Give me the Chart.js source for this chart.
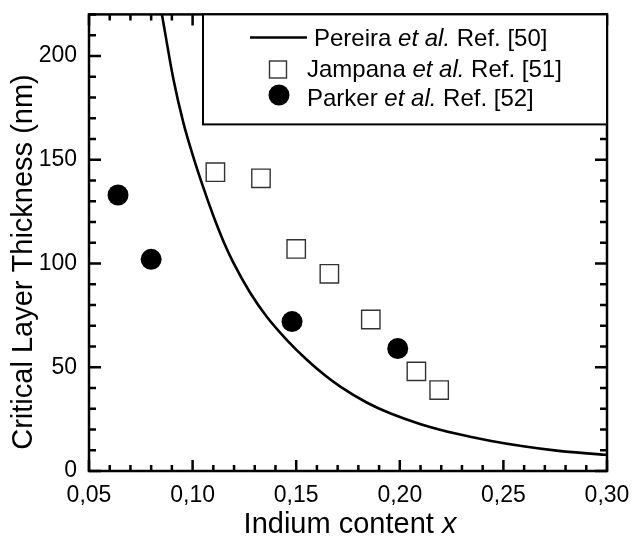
<!DOCTYPE html>
<html>
<head>
<meta charset="utf-8">
<script src="https://cdn.jsdelivr.net/npm/chart.js@4.4.1/dist/chart.umd.min.js"></script>
<style>
  html, body { margin: 0; padding: 0; background: #fff; }
</style>
</head>
<body>
<canvas id="myChart" width="632" height="541"></canvas>
<script>
// Pereira et al. model curve (critical thickness vs indium content)
const pereiraX = [0.0852, 0.0907, 0.0955, 0.1003, 0.1052, 0.110, 0.1156, 0.1196, 0.1277, 0.1358, 0.1454, 0.155, 0.164, 0.1711, 0.184, 0.1953, 0.2097, 0.2275, 0.2435, 0.2596, 0.2757, 0.2966, 0.300];
const pereiraY = [220, 189, 168, 151.5, 136.5, 123, 109, 100.5, 86, 74.3, 63.2, 53.7, 46.0, 40.8, 33.0, 27.8, 22.7, 17.9, 14.6, 11.9, 9.8, 8.0, 7.8];

// Jampana et al. measurements
const jampanaX = [0.111, 0.133, 0.150, 0.166, 0.186, 0.208, 0.219];
const jampanaY = [144, 141, 107, 95, 73, 48, 39];

// Parker et al. measurements
const parkerX = [0.064, 0.080, 0.148, 0.199];
const parkerY = [133, 102, 72, 59];

const xTicks = [0.05, 0.10, 0.15, 0.20, 0.25, 0.30];
const yTicks = [0, 50, 100, 150, 200];

const FONT = "'Liberation Sans', Arial, sans-serif";
Chart.defaults.color = '#000';
Chart.defaults.font.family = FONT;

function pairs(xs, ys) {
  return xs.map((x, i) => ({ x: x, y: ys[i] }));
}

function noPadding(s) {
  s.paddingTop = 0;
  s.paddingBottom = 0;
  s.paddingLeft = 0;
  s.paddingRight = 0;
}

// frame, inward ticks on all four sides, axis titles and the boxed legend
const framePlugin = {
  id: 'frame',
  afterDatasetsDraw(chart) {
    const ctx = chart.ctx;
    const a = chart.chartArea;
    const xs = chart.scales.x, ys = chart.scales.y;
    ctx.save();
    ctx.strokeStyle = '#000';
    ctx.lineWidth = 2.5;
    ctx.lineCap = 'butt';

    // minor ticks every 0.01 on x, every 10 on y
    ctx.beginPath();
    for (let i = 5; i <= 30; i++) {
      const px = xs.getPixelForValue(i / 100);
      const len = i % 5 === 0 ? 11 : 6;
      ctx.moveTo(px, a.bottom); ctx.lineTo(px, a.bottom - len);
      ctx.moveTo(px, a.top); ctx.lineTo(px, a.top + len);
    }
    for (let v = 0; v <= 220; v += 10) {
      const py = ys.getPixelForValue(v);
      const len = v % 50 === 0 ? 12 : 7;
      ctx.moveTo(a.left, py); ctx.lineTo(a.left + len, py);
      ctx.moveTo(a.right, py); ctx.lineTo(a.right - len, py);
    }
    ctx.stroke();
    ctx.strokeRect(a.left, a.top, a.right - a.left, a.bottom - a.top);

    // legend box
    const lx = 203, ly = a.top, lw = a.right - 203, lh = 110;
    ctx.fillStyle = '#fff';
    ctx.fillRect(lx, ly, lw, lh);
    ctx.lineWidth = 2;
    ctx.strokeRect(lx, ly, lw, lh);

    const ds = chart.data.datasets;
    // line sample
    ctx.strokeStyle = ds[0].borderColor;
    ctx.lineWidth = ds[0].borderWidth;
    ctx.beginPath();
    ctx.moveTo(250, 37.5); ctx.lineTo(307, 37.5);
    ctx.stroke();
    // square sample
    ctx.strokeStyle = ds[1].pointBorderColor;
    ctx.lineWidth = ds[1].pointBorderWidth;
    ctx.strokeRect(269.5, 61, 17, 17);
    // circle sample
    ctx.fillStyle = ds[2].pointBackgroundColor;
    ctx.beginPath();
    ctx.arc(279, 95, 10.5, 0, Math.PI * 2);
    ctx.fill();

    const normal = '24px ' + FONT, italic = 'italic 24px ' + FONT;
    function mixed(parts, x, y) {
      ctx.textAlign = 'left';
      ctx.textBaseline = 'alphabetic';
      ctx.fillStyle = '#000';
      parts.forEach(p => {
        ctx.font = p[1] ? italic : normal;
        ctx.fillText(p[0], x, y);
        x += ctx.measureText(p[0]).width;
      });
    }
    mixed([['Pereira ', false], ['et al.', true], [' Ref. [50]', false]], 314, 45.5);
    mixed([['Jampana ', false], ['et al.', true], [' Ref. [51]', false]], 307, 77);
    mixed([['Parker ', false], ['et al.', true], [' Ref. [52]', false]], 307, 106);

    // x axis title with italic x
    const tNormal = '29px ' + FONT, tItalic = 'italic 29px ' + FONT;
    ctx.font = tNormal;
    const w1 = ctx.measureText('Indium content ').width;
    ctx.font = tItalic;
    const w2 = ctx.measureText('x').width;
    let tx = (a.left + a.right) / 2 + 2 - (w1 + w2) / 2;
    ctx.textAlign = 'left';
    ctx.textBaseline = 'alphabetic';
    ctx.font = tNormal;
    ctx.fillText('Indium content ', tx, 533);
    ctx.font = tItalic;
    ctx.fillText('x', tx + w1, 533);

    // y axis title
    ctx.translate(32, 262);
    ctx.rotate(-Math.PI / 2);
    ctx.font = tNormal;
    ctx.textAlign = 'center';
    ctx.fillText('Critical Layer Thickness (nm)', 0, 0);
    ctx.restore();
  }
};

const ctx = document.getElementById('myChart');
new Chart(ctx, {
  type: 'scatter',
  data: {
    datasets: [{
      label: 'Pereira et al. Ref. [50]',
      data: pairs(pereiraX, pereiraY),
      showLine: true,
      borderColor: '#000',
      borderWidth: 2.6,
      pointRadius: 0,
      cubicInterpolationMode: 'monotone',
      fill: false
    }, {
      label: 'Jampana et al. Ref. [51]',
      data: pairs(jampanaX, jampanaY),
      pointStyle: 'rect',
      pointRadius: 13,
      pointBackgroundColor: '#fff',
      pointBorderColor: '#333',
      pointBorderWidth: 1.4
    }, {
      label: 'Parker et al. Ref. [52]',
      data: pairs(parkerX, parkerY),
      pointStyle: 'circle',
      pointRadius: 10.5,
      pointBackgroundColor: '#000',
      pointBorderColor: '#000',
      pointBorderWidth: 0
    }]
  },
  options: {
    responsive: false,
    animation: false,
    layout: { padding: { left: 0, right: 25, top: 12, bottom: 0 } },
    plugins: {
      legend: { display: false },
      tooltip: { enabled: false }
    },
    scales: {
      x: {
        type: 'linear',
        min: 0.05,
        max: 0.30,
        grid: { display: false, drawTicks: false },
        border: { display: false },
        afterBuildTicks: s => { s.ticks = xTicks.map(v => ({ value: v })); },
        afterFit: s => { s.height = 70; noPadding(s); },
        ticks: {
          padding: 11,
          font: { size: 23 },
          maxRotation: 0,
          callback: v => v.toFixed(2).replace('.', ',')
        }
      },
      y: {
        min: 0,
        max: 220,
        grid: { display: false, drawTicks: false },
        border: { display: false },
        afterBuildTicks: s => { s.ticks = yTicks.map(v => ({ value: v })); },
        afterFit: s => { s.width = 89; noPadding(s); },
        ticks: {
          padding: 12,
          font: { size: 23 }
        }
      }
    }
  },
  plugins: [framePlugin]
});
</script>
</body>
</html>
